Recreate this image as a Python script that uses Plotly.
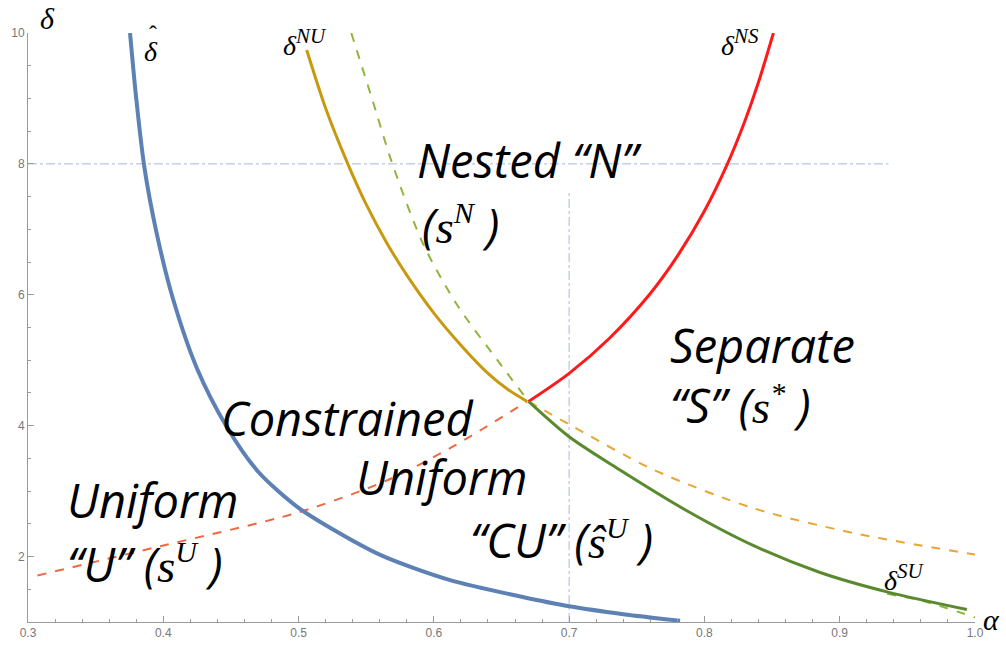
import plotly.graph_objects as go

# ---- data (alpha, delta) ----
hat_alpha = [0.3754, 0.380, 0.386, 0.395, 0.407, 0.425, 0.447, 0.470, 0.499, 0.530, 0.562, 0.612, 0.664, 0.700, 0.740, 0.782]
hat_delta = [10.0, 9.0, 7.95, 6.95, 5.95, 4.87, 3.98, 3.30, 2.76, 2.36, 2.01, 1.64, 1.39, 1.24, 1.12, 1.02]

nu_alpha = [0.506, 0.520, 0.536, 0.550, 0.565, 0.580, 0.600, 0.620, 0.640, 0.655, 0.669]
nu_delta = [9.74, 8.85, 8.02, 7.38, 6.80, 6.30, 5.72, 5.23, 4.80, 4.55, 4.37]

ns_alpha = [0.670, 0.700, 0.730, 0.760, 0.780, 0.800, 0.817, 0.830, 0.840, 0.851]
ns_delta = [4.37, 4.80, 5.34, 6.02, 6.59, 7.28, 8.00, 8.66, 9.25, 10.0]

su_alpha = [0.670, 0.700, 0.737, 0.787, 0.836, 0.885, 0.935, 0.994]
su_delta = [4.37, 3.83, 3.33, 2.70, 2.17, 1.76, 1.46, 1.19]

su_ext_alpha = [0.539, 0.555, 0.569, 0.592, 0.617, 0.647, 0.670]
su_ext_delta = [10.0, 8.95, 8.02, 6.78, 5.85, 5.00, 4.37]
su_tail_alpha = [0.935, 0.960, 1.000]
su_tail_delta = [1.43, 1.33, 1.07]

nu_ext_alpha = [0.670, 0.700, 0.762, 0.836, 0.910, 1.000]
nu_ext_delta = [4.37, 4.02, 3.33, 2.74, 2.36, 2.03]

ns_ext_alpha = [0.307, 0.392, 0.499, 0.565, 0.614, 0.669]
ns_ext_delta = [1.71, 2.13, 2.67, 3.16, 3.68, 4.37]

grid_h_alpha = [0.3, 0.936]
grid_h_delta = [8.0, 8.0]
grid_v_alpha = [0.7, 0.7]
grid_v_delta = [1.0, 7.57]

x_ticks = [0.3, 0.4, 0.5, 0.6, 0.7, 0.8, 0.9, 1.0]
y_ticks = [2, 4, 6, 8, 10]

fig = go.Figure()

grid_col = "#a9b9d6"
fig.add_trace(go.Scatter(x=grid_h_alpha, y=grid_h_delta, mode="lines",
                         line=dict(color=grid_col, width=1, dash="dashdot"), hoverinfo="skip"))
fig.add_trace(go.Scatter(x=grid_v_alpha, y=grid_v_delta, mode="lines",
                         line=dict(color=grid_col, width=1, dash="dashdot"), hoverinfo="skip"))

def curve(xs, ys, color, width, dash="solid"):
    fig.add_trace(go.Scatter(x=xs, y=ys, mode="lines", line_shape="spline",
                             line=dict(color=color, width=width, dash=dash, smoothing=0.8),
                             hoverinfo="skip"))

curve(nu_ext_alpha, nu_ext_delta, "#e8a534", 2, "dash")
curve(ns_ext_alpha, ns_ext_delta, "#eb6a45", 2, "dash")
curve(su_ext_alpha, su_ext_delta, "#8fb53c", 2, "dash")
curve(su_tail_alpha, su_tail_delta, "#8fb53c", 2, "dash")
curve(hat_alpha, hat_delta, "#5e81b5", 4)
curve(nu_alpha, nu_delta, "#c8990f", 3)
curve(ns_alpha, ns_delta, "#ff1a1a", 3)
curve(su_alpha, su_delta, "#5a8a2e", 3)

serif = "Liberation Serif"
body = "Open Sans"

def S(t):
    return f'<span style="font-family:{serif}">{t}</span>'

def SUP(t, px=30):
    return f'<sup><span style="font-family:{serif};font-size:{px}px">{t}</span></sup>'

region_labels = [
    (0.586, 8.06, "Nested “N”"),
    (0.590, 7.07, "(" + S("s") + SUP("N") + " )"),
    (0.773, 5.24, "Separate"),
    (0.773, 4.32, "“S” (" + S("s") + SUP("*") + " )"),
    (0.441, 4.12, "Constrained"),
    (0.541, 3.21, "Uniform"),
    (0.625, 2.26, "“CU” (" + S("ŝ") + SUP("U") + " )"),
    (0.327, 2.87, "Uniform"),
    (0.327, 1.88, "“U” (" + S("s") + SUP("U") + " )"),
]
for x, y, t in region_labels:
    fig.add_annotation(x=x, y=y, xref="x", yref="y", text=t, showarrow=False,
                       xanchor="left", yanchor="middle",
                       font=dict(family=body, size=47, color="black", style="italic"))

curve_labels = [
    (0.384, 9.72, "δ"),
    (0.487, 9.85, "δ" + SUP("NU", 21)),
    (0.811, 9.85, "δ" + SUP("NS", 21)),
    (0.931, 1.68, "δ" + SUP("SU", 21)),
]
for x, y, t in curve_labels:
    fig.add_annotation(x=x, y=y, xref="x", yref="y", text=t, showarrow=False,
                       xanchor="left", yanchor="middle",
                       font=dict(family=serif, size=28, color="black", style="italic"))
# circumflex over the delta-hat label
fig.add_annotation(x=0.388, y=9.98, xref="x", yref="y", text="ˆ", showarrow=False,
                   xanchor="left", yanchor="middle",
                   font=dict(family=serif, size=24, color="black"))

# axis labels
fig.add_annotation(xref="paper", yref="paper", x=(38 - 28) / (975 - 28), y=1 + (33 - 18) / (622 - 33),
                   text="δ", showarrow=False, xanchor="left", yanchor="middle",
                   font=dict(family=serif, size=30, color="black", style="italic"))
fig.add_annotation(xref="paper", yref="paper", x=1 + (981 - 975) / (975 - 28), y=(622 - 619) / (622 - 33),
                   text="α", showarrow=False, xanchor="left", yanchor="middle",
                   font=dict(family=serif, size=30, color="black", style="italic"))

axis_col = "#9a9a9a"
tick_font = dict(family="Liberation Sans Narrow, Liberation Sans", size=12, color="#777777")
fig.update_xaxes(range=[0.3, 1.0], tickvals=x_ticks, ticktext=[f"{v:.1f}" for v in x_ticks],
                 automargin=False,
                 showgrid=False, zeroline=False, showline=True, linecolor=axis_col, linewidth=1,
                 ticks="inside", ticklen=6, tickcolor=axis_col, tickfont=tick_font,
                 minor=dict(dtick=0.02, tick0=0.3, ticks="inside", ticklen=3, tickcolor=axis_col, showgrid=False))
fig.update_yaxes(range=[1, 10], tickvals=y_ticks, ticktext=[str(v) for v in y_ticks],
                 automargin=False,
                 showgrid=False, zeroline=False, showline=True, linecolor=axis_col, linewidth=1,
                 ticks="inside", ticklen=6, tickcolor=axis_col, tickfont=tick_font,
                 minor=dict(dtick=0.5, tick0=1, ticks="inside", ticklen=3, tickcolor=axis_col, showgrid=False))

fig.update_layout(width=1006, height=647, showlegend=False,
                  margin=dict(l=28, r=31, t=33, b=25, autoexpand=False),
                  plot_bgcolor="white", paper_bgcolor="white")

fig.write_html("out.html", config={"displayModeBar": False},
               post_script="document.body.style.margin='0';document.body.style.overflow='hidden';")
